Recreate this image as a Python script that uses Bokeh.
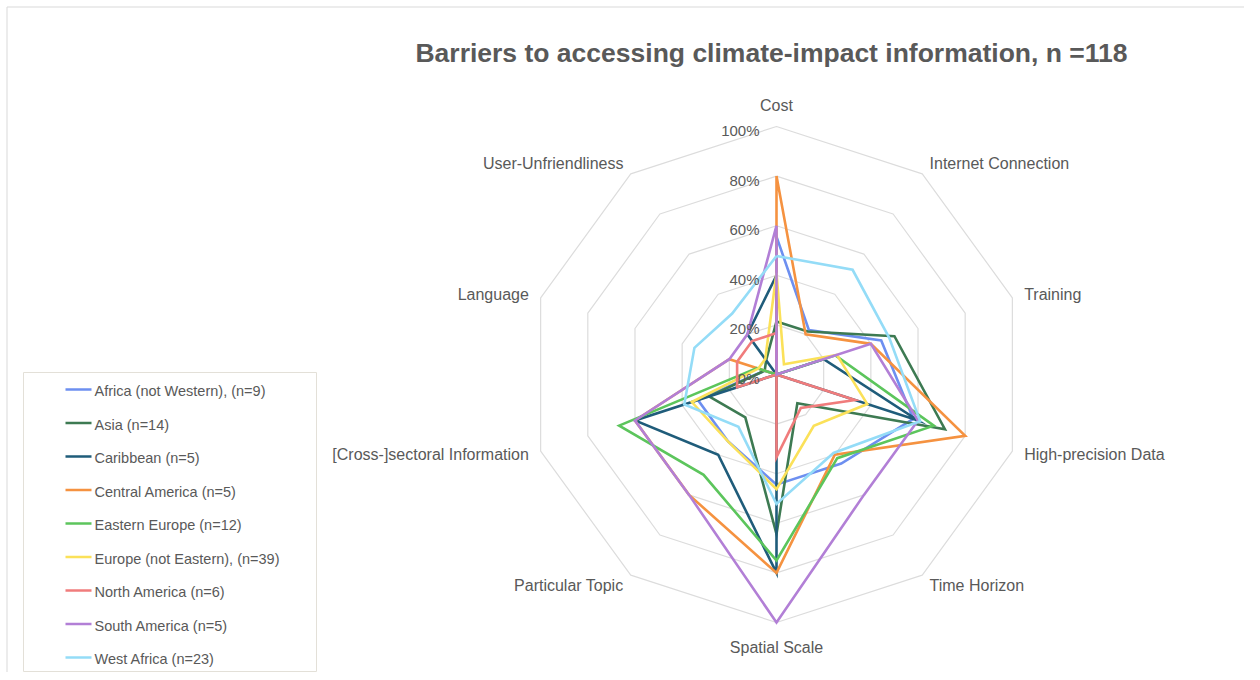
import math
from bokeh.plotting import figure
from bokeh.models import Range1d
from bokeh.core.properties import value
from bokeh.embed import file_html
from bokeh.resources import INLINE

# ---------------- data ----------------
title = "Barriers to accessing climate-impact information, n =118"
categories = ["Cost", "Internet Connection", "Training", "High-precision Data",
              "Time Horizon", "Spatial Scale", "Particular Topic",
              "[Cross-]sectoral Information", "Language", "User-Unfriendliness"]
tick_values = [0, 20, 40, 60, 80, 100]
tick_labels = ["0%", "20%", "40%", "60%", "80%", "100%"]

series_names = ["Africa (not Western), (n=9)", "Asia (n=14)", "Caribbean (n=5)",
                "Central America (n=5)", "Eastern Europe (n=12)",
                "Europe (not Eastern), (n=39)", "North America (n=6)",
                "South America (n=5)", "West Africa (n=23)"]

africa_not_western = [55.6, 22.2, 44.4, 58.0, 44.4, 44.4, 33.3, 33.3, 5.0, 0.0]
asia = [21.4, 21.4, 50.0, 71.4, 14.3, 64.3, 21.4, 28.6, 5.0, 7.1]
caribbean = [40.0, 0.0, 20.0, 60.0, 0.0, 80.0, 40.0, 60.0, 0.0, 20.0]
central_america = [80.0, 20.0, 40.0, 80.0, 40.0, 80.0, 60.0, 60.0, 20.0, 0.0]
eastern_europe = [0.0, 0.0, 25.0, 66.7, 41.7, 75.0, 50.0, 66.7, 8.3, 0.0]
europe_not_eastern = [41.0, 5.1, 25.6, 38.5, 25.6, 46.2, 33.3, 35.9, 7.7, 7.7]
north_america = [16.7, 0.0, 0.0, 33.3, 16.7, 33.3, 0.0, 16.7, 16.7, 16.7]
south_america = [60.0, 0.0, 40.0, 60.0, 60.0, 100.0, 60.0, 60.0, 20.0, 20.0]
west_africa = [47.8, 52.2, 47.8, 60.9, 39.1, 52.2, 26.1, 39.1, 34.8, 30.4]

series_values = [africa_not_western, asia, caribbean, central_america, eastern_europe,
                 europe_not_eastern, north_america, south_america, west_africa]
colors = ["#6d8ff0", "#3d7a52", "#1f5c7a", "#f59240", "#5cc55c",
          "#fbe159", "#f07c7c", "#b27fd6", "#94dcf7"]

# ---------------- layout ----------------
W, H = 1244, 672
ORIGIN = 1             # page position of the figure's top-left corner (as photographed)
SCALE = 248.0          # px per unit radius (100%)
CX, CY = 777.0, 375.0  # page position of the radar centre
FONT = value("Liberation Sans")
TXT = "#595959"


def px(xp, yp):
    """page pixel -> data coordinates"""
    return (xp - CX) / SCALE, (CY - yp) / SCALE


x0, y_top = px(ORIGIN, ORIGIN)
x1, y_bot = px(ORIGIN + W, ORIGIN + H)

p = figure(width=W, height=H, output_backend="svg", toolbar_location=None,
           x_range=Range1d(x0, x1), y_range=Range1d(y_bot, y_top),
           x_axis_type=None, y_axis_type=None,
           min_border=0, min_border_left=0, min_border_right=0,
           min_border_top=0, min_border_bottom=0)
p.grid.visible = False
p.outline_line_color = None
p.background_fill_color = "white"
p.border_fill_color = "white"

# chart frame (top and left edges visible in the reference)
fx0, fy0 = px(7.5, 7.5)
fx1, fy1 = px(1300, 720)
p.quad(left=[fx0], right=[fx1], top=[fy0], bottom=[fy1],
       fill_color=None, line_color="#d9d9d9", line_width=1)

n = len(categories)
angles = [math.pi / 2 - 2 * math.pi * k / n for k in range(n)]

# grid decagons
for t in tick_values[1:]:
    r = t / 100.0
    xs = [r * math.cos(a) for a in angles] + [r * math.cos(angles[0])]
    ys = [r * math.sin(a) for a in angles] + [r * math.sin(angles[0])]
    p.line(xs, ys, line_color="#dcdcdc", line_width=1.2)

# series
for name, vals, col in zip(series_names, series_values, colors):
    xs = [v / 100.0 * math.cos(a) for v, a in zip(vals, angles)]
    ys = [v / 100.0 * math.sin(a) for v, a in zip(vals, angles)]
    xs.append(xs[0]); ys.append(ys[0])
    p.line(xs, ys, line_color=col, line_width=2.6, line_join="miter")

# tick labels (left of the Cost axis)
p.text(x=[-17 / SCALE] * len(tick_values),
       y=[t / 100.0 - 4 / SCALE for t in tick_values],
       text=tick_labels, text_align="right", text_baseline="middle",
       text_font=FONT, text_font_size="15px", text_color=TXT)

# category labels
groups = {"top": ([0], "center", "bottom", 1.05),
          "bottom": ([5], "center", "top", 1.065),
          "right": ([1, 2, 3, 4], "left", "middle", 1.05),
          "left": ([6, 7, 8, 9], "right", "middle", 1.05)}
for key, (idx, al, bl, rr) in groups.items():
    p.text(x=[rr * math.cos(angles[k]) for k in idx],
           y=[rr * math.sin(angles[k]) for k in idx],
           text=[categories[k] for k in idx], text_align=al, text_baseline=bl,
           text_font=FONT, text_font_size="16px", text_color=TXT)

# title
tx, ty = px(772, 53)
p.text(x=[tx], y=[ty], text=[title], text_align="center", text_baseline="middle",
       text_font=FONT, text_font_size="26.5px", text_font_style="bold", text_color=TXT)

# legend box
lx0, ly0 = px(24, 373)
lx1, ly1 = px(317, 672)
p.quad(left=[lx0], right=[lx1], top=[ly0], bottom=[ly1],
       fill_color="white", line_color="#e3e0d8", line_width=1)

for i, (name, col) in enumerate(zip(series_names, colors)):
    yl = 390 + 33.5 * i
    a0, b0 = px(66, yl)
    a1, _ = px(92, yl)
    p.line([a0, a1], [b0, b0], line_color=col, line_width=2.6)
    tx, ty = px(95, yl + 1.5)
    p.text(x=[tx], y=[ty], text=[name], text_align="left", text_baseline="middle",
           text_font=FONT, text_font_size="14.5px", text_color=TXT)

open("out.html", "w").write(file_html(p, INLINE))
